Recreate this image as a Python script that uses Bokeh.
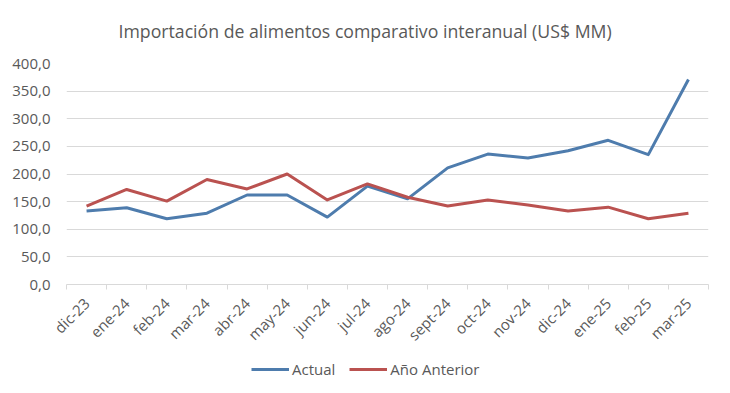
import math
from bokeh.plotting import figure
from bokeh.layouts import column
from bokeh.models import (Range1d, LinearAxis, FixedTicker, Legend, LegendItem, ColumnDataSource, Label)
from bokeh.embed import file_html
from bokeh.resources import INLINE

title_text = "Importación de alimentos comparativo interanual (US$ MM)"
months = ["dic-23", "ene-24", "feb-24", "mar-24", "abr-24", "may-24", "jun-24", "jul-24",
          "ago-24", "sept-24", "oct-24", "nov-24", "dic-24", "ene-25", "feb-25", "mar-25"]
actual = [133, 139, 119, 129, 162, 162, 122, 178, 155, 211, 236, 229, 242, 261, 235, 371]
anterior = [142, 172, 151, 190, 173, 200, 153, 182, 158, 142, 153, 144, 133, 140, 119, 129]
y_ticks = [0, 50, 100, 150, 200, 250, 300, 350, 400]
y_tick_labels = ["0,0", "50,0", "100,0", "150,0", "200,0", "250,0", "300,0", "350,0", "400,0"]
series_names = ["Actual", "Año Anterior"]

BLUE = "#4E7CAD"
RED = "#BA5250"
GRAY_TXT = "#595959"
GRID = "#D9D9D9"
FONT = "Open Sans"

n = len(months)
centers = [i + 0.5 for i in range(n)]          # category centres on a numeric scale
bounds = list(range(n + 1))                    # category boundaries (tick marks)
src = ColumnDataSource(data=dict(x=centers, a=actual, b=anterior))


def strip(height):
    f = figure(width=714, height=height, output_backend="svg", toolbar_location=None,
               x_axis_location=None, y_axis_location=None,
               x_range=Range1d(0, n), y_range=Range1d(1000, 1001),
               min_border_left=0, min_border_right=0, min_border_top=0, min_border_bottom=0)
    f.outline_line_color = None
    f.background_fill_color = "white"
    f.border_fill_color = "white"
    f.xgrid.visible = False
    f.ygrid.visible = False
    return f


# title strip
t = strip(48)
t.add_layout(Label(x=52, y=18, x_units="screen", y_units="screen", text=title_text,
                   text_font=FONT, text_font_size="17.7px", text_color=GRAY_TXT,
                   text_align="left", text_baseline="middle"))

# main chart
p = figure(frame_width=642, frame_height=221, output_backend="svg", toolbar_location=None,
           x_range=Range1d(0, n), y_range=Range1d(y_ticks[0], y_ticks[-1]),
           x_axis_location=None, y_axis_location=None,
           min_border_left=66, min_border_right=6, min_border_top=15, min_border_bottom=40)
p.outline_line_color = None
p.background_fill_color = "white"
p.border_fill_color = "white"

yax = LinearAxis(ticker=FixedTicker(ticks=y_ticks))
yax.major_label_overrides = {tk: lb for tk, lb in zip(y_ticks, y_tick_labels)}
yax.axis_line_color = None
yax.major_tick_line_color = None
yax.minor_tick_line_color = None
yax.major_label_standoff = 10
yax.major_label_text_font = FONT
yax.major_label_text_font_size = "15px"
yax.major_label_text_color = GRAY_TXT
p.add_layout(yax, "left")
p.ygrid.ticker = yax.ticker
p.ygrid.grid_line_color = GRID
p.ygrid.grid_line_width = 1
p.xgrid.visible = False

# category axis: labels at centres, tick marks (minor ticks) at category boundaries
xax = LinearAxis(ticker=FixedTicker(ticks=centers, minor_ticks=bounds))
xax.major_label_overrides = {c: m for c, m in zip(centers, months)}
xax.axis_line_color = GRID
xax.major_tick_line_color = None
xax.major_tick_out = 0
xax.major_tick_in = 0
xax.minor_tick_line_color = GRID
xax.minor_tick_out = 5
xax.minor_tick_in = 0
xax.major_label_orientation = math.pi / 4
xax.major_label_standoff = 11
xax.major_label_text_font = FONT
xax.major_label_text_font_size = "15px"
xax.major_label_text_color = GRAY_TXT
p.add_layout(xax, "below")

r1 = p.line("x", "a", source=src, line_color=BLUE, line_width=3, line_join="round")
r2 = p.line("x", "b", source=src, line_color=RED, line_width=3, line_join="round")

# legend strip below the chart (series drawn out of view; only the legend shows)
q = strip(36)
l1 = q.line("x", "a", source=src, line_color=BLUE, line_width=3)
l2 = q.line("x", "b", source=src, line_color=RED, line_width=3)
legend = Legend(items=[LegendItem(label=series_names[0], renderers=[l1]),
                       LegendItem(label=series_names[1], renderers=[l2])],
                orientation="horizontal", location=(185, 11))
legend.border_line_color = None
legend.background_fill_alpha = 0
legend.padding = 0
legend.margin = 0
legend.spacing = 14
legend.glyph_width = 38
legend.label_standoff = 3
legend.label_text_font = FONT
legend.label_text_font_size = "15px"
legend.label_text_color = GRAY_TXT
q.add_layout(legend, "center")

layout = column(t, p, q, spacing=0)
open("out.html", "w").write(file_html(layout, INLINE))
